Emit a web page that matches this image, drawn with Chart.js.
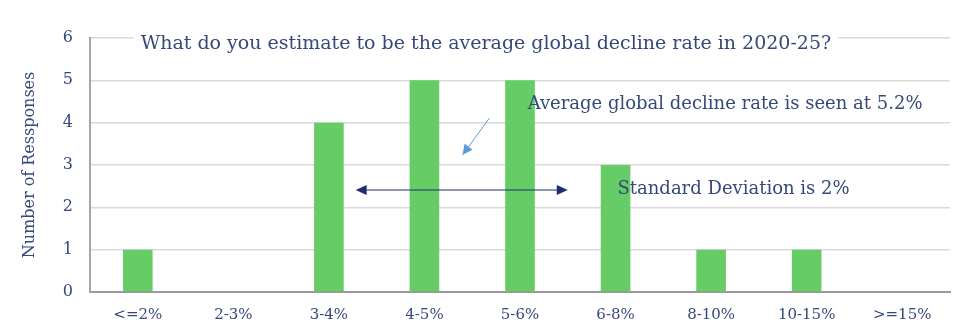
<!DOCTYPE html>
<html>
<head>
<meta charset="utf-8">
<script src="https://cdn.jsdelivr.net/npm/chart.js@4/dist/chart.umd.min.js"></script>
<style>
  html, body { margin: 0; padding: 0; background: #fff; }
  #wrap { width: 980px; height: 331px; }
</style>
</head>
<body>
<div id="wrap"><canvas id="declineChart"></canvas></div>
<script>
'use strict'

var categories = ["<=2%", "2-3%", "3-4%", "4-5%", "5-6%", "6-8%", "8-10%", "10-15%", ">=15%"];
var responses = [1, 0, 4, 5, 5, 3, 1, 1, 0];
var yTicks = [0, 1, 2, 3, 4, 5, 6];

var question = "What do you estimate to be the average global decline rate in 2020-25?";
var avgNote = "Average global decline rate is seen at 5.2%";
var sdNote = "Standard Deviation is 2%";

var textColor = "#34497a";
var serif = "'DejaVu Serif', 'Liberation Serif', serif";

function arrowHead(ctx, x1, y1, x2, y2, size, width) {
  var a = Math.atan2(y2 - y1, x2 - x1);
  ctx.beginPath();
  ctx.moveTo(x2, y2);
  ctx.lineTo(x2 - size * Math.cos(a) + width * Math.sin(a), y2 - size * Math.sin(a) - width * Math.cos(a));
  ctx.lineTo(x2 - size * Math.cos(a) - width * Math.sin(a), y2 - size * Math.sin(a) + width * Math.cos(a));
  ctx.closePath();
  ctx.fill();
}

// question box, the two notes and their arrows
var notes = {
  id: 'notes',
  afterDatasetsDraw: function(chart) {
    var ctx = chart.ctx;
    var x = chart.scales.x, y = chart.scales.y;
    ctx.save();
    ctx.textBaseline = "middle";
    ctx.textAlign = "left";

    // question, on a white box over the top grid line
    ctx.font = "19px " + serif;
    var qx = x.getPixelForValue(0.03), qy = y.getPixelForValue(5.86);
    var qw = ctx.measureText(question).width;
    ctx.fillStyle = "#fff";
    ctx.fillRect(qx - 7, y.getPixelForValue(6) - 4, qw + 14, 22);
    ctx.fillStyle = textColor;
    ctx.fillText(question, qx, qy);

    ctx.font = "18px " + serif;
    ctx.fillText(avgNote, x.getPixelForValue(4.08), y.getPixelForValue(4.44));
    ctx.fillText(sdNote, x.getPixelForValue(5.02), y.getPixelForValue(2.43));

    // light blue arrow pointing at the mean
    var ax1 = x.getPixelForValue(3.68), ay1 = y.getPixelForValue(4.11);
    var ax2 = x.getPixelForValue(3.40), ay2 = y.getPixelForValue(3.24);
    ctx.strokeStyle = "#5b9bd5";
    ctx.fillStyle = "#5b9bd5";
    ctx.lineWidth = 1;
    ctx.beginPath();
    ctx.moveTo(ax1, ay1);
    ctx.lineTo(ax2, ay2);
    ctx.stroke();
    arrowHead(ctx, ax1, ay1, ax2, ay2, 10, 5);

    // double arrow for the spread
    var sx1 = x.getPixelForValue(2.28), sx2 = x.getPixelForValue(4.5), sy = y.getPixelForValue(2.41);
    ctx.strokeStyle = "#1f2d6e";
    ctx.fillStyle = "#1f2d6e";
    ctx.lineWidth = 1.2;
    ctx.beginPath();
    ctx.moveTo(sx1 + 4, sy);
    ctx.lineTo(sx2 - 4, sy);
    ctx.stroke();
    arrowHead(ctx, sx1 + 10, sy, sx1, sy, 11, 5);
    arrowHead(ctx, sx2 - 10, sy, sx2, sy, 11, 5);
    ctx.restore();
  }
};

const ctx = document.getElementById('declineChart').getContext('2d');
const declineChart = new Chart(ctx, {
  type: 'bar',
  data: {
    labels: categories,
    datasets: [{
      data: responses,
      backgroundColor: "#66cc66",
      categoryPercentage: 1,
      barPercentage: 0.31
    }]
  },
  options: {
    responsive: true,
    maintainAspectRatio: false,
    animation: false,
    layout: { padding: { top: 38, right: 30, left: 0, bottom: 0 } },
    plugins: {
      legend: { display: false },
      tooltip: { enabled: false }
    },
    scales: {
      x: {
        grid: { display: false },
        border: { color: "#9a9a9a", width: 2 },
        ticks: { color: textColor, font: { family: serif, size: 15 }, padding: 6, maxRotation: 0 },
        afterFit: function(scale) { scale.height = 39; }
      },
      y: {
        min: 0,
        max: 6,
        afterBuildTicks: function(scale) {
          scale.ticks = yTicks.map(function(v) { return { value: v }; });
        },
        grid: { color: "#d9d9d9", lineWidth: 1.5, drawTicks: false },
        border: { color: "#a6a6a6", width: 2 },
        ticks: { color: textColor, font: { family: serif, size: 16 }, padding: 17 },
        title: {
          display: true,
          text: "Number of Ressponses",
          color: textColor,
          font: { family: serif, size: 16 },
          padding: { top: 20, bottom: 0 }
        },
        afterFit: function(scale) { scale.width = 90; }
      }
    }
  },
  plugins: [notes]
});
</script>
</body>
</html>
